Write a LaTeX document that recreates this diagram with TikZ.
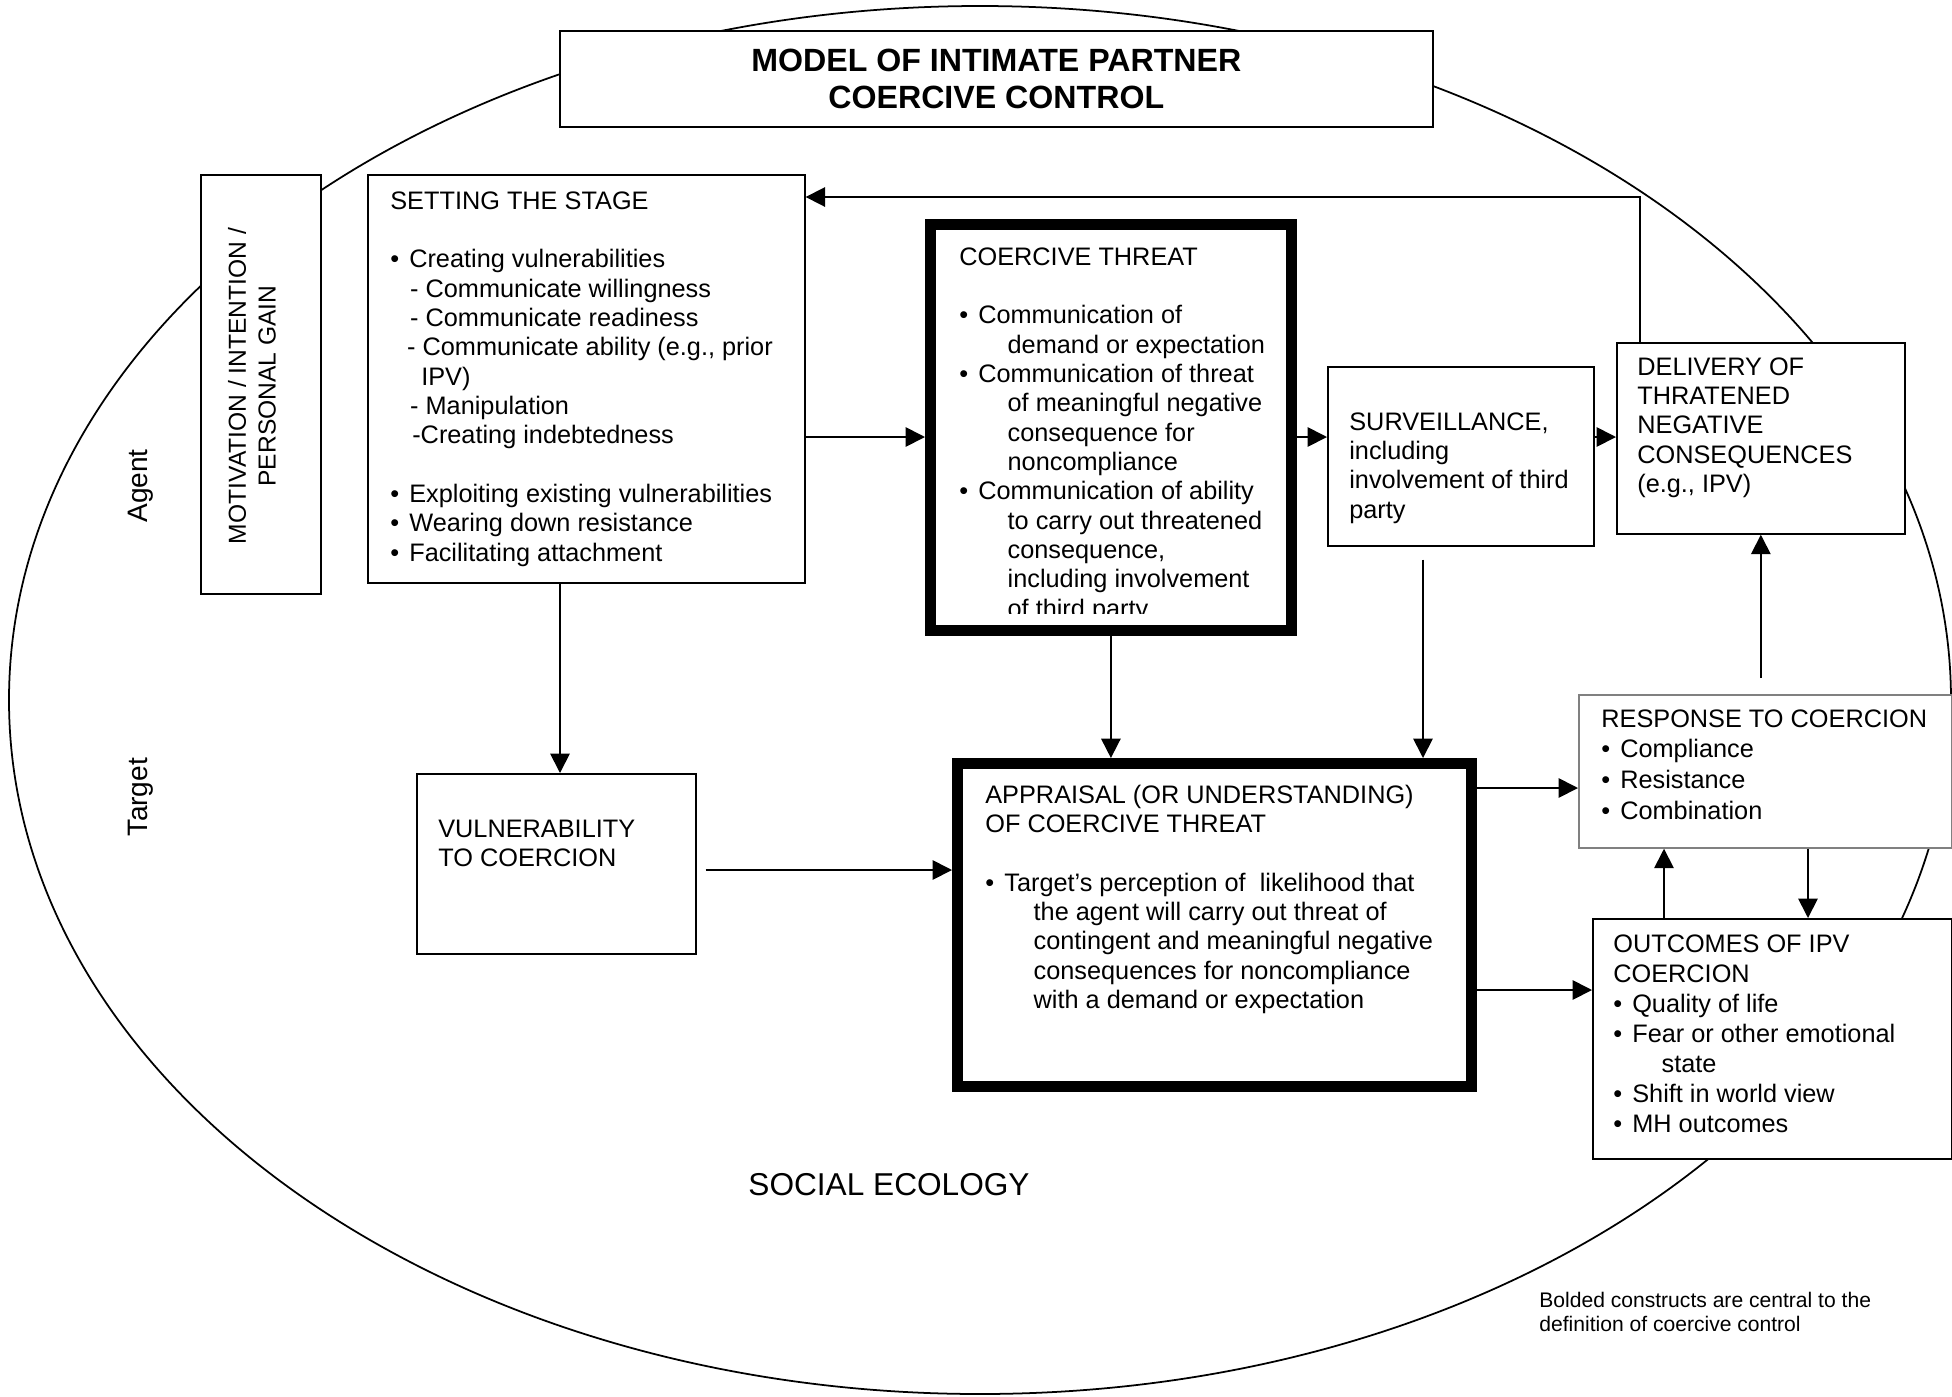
\documentclass[tikz,border=0pt]{standalone}
\usepackage{fontspec}
\setmainfont{Liberation Sans}
\usetikzlibrary{arrows.meta,calc,positioning}

\newcommand{\bulletMark}{\makebox[10.8pt][l]{\textbullet}}
\newcommand{\contIndent}{\hspace*{27.5pt}}

\begin{document}
\begin{tikzpicture}[x=0.02cm, y=-0.02cm,
        box/.style={draw, line width=1pt, fill=white, inner sep=0pt, anchor=north west},
        boldbox/.style={box, line width=6.2pt},
        txt/.style={anchor=base west, inner sep=0pt, font=\fontsize{14.4pt}{16.7pt}\selectfont},
        arr/.style={line width=1pt, -{Triangle[length=11pt, width=11pt]}}]

        \useasboundingbox (0,0) rectangle (1952,1397);

        % Social ecology
        \draw[line width=1pt] (980,700) ellipse [x radius=971, y radius=694];

        % Boxes
        \node[box, minimum width=17.46cm, minimum height=1.92cm,
              font=\fontsize{18.3pt}{21pt}\bfseries\selectfont, align=center] (title) at (559,30)
              {MODEL OF INTIMATE PARTNER\\COERCIVE CONTROL};
        \node[box, minimum width=2.40cm, minimum height=8.38cm] (motiv) at (200,174) {};
        \node[box, minimum width=8.74cm, minimum height=8.16cm] (stage) at (367,174) {};
        \node[boldbox, minimum width=7.22cm, minimum height=8.12cm] (threat) at (925,219) {};
        \node[box, minimum width=5.32cm, minimum height=3.58cm] (surv) at (1327,366) {};
        \node[box, minimum width=5.76cm, minimum height=3.82cm] (deliv) at (1616,342) {};
        \node[box, draw=gray, minimum width=7.46cm, minimum height=3.06cm] (resp) at (1578,694) {};
        \node[box, minimum width=7.18cm, minimum height=4.80cm] (outc) at (1592,918) {};
        \node[box, minimum width=5.58cm, minimum height=3.60cm] (vuln) at (416,773) {};
        \node[boldbox, minimum width=10.28cm, minimum height=6.46cm] (appr) at (952,758) {};

        % Box texts
        \node[rotate=90, align=center, font=\fontsize{14pt}{17pt}\selectfont] (motivtext) at (252,386)
              {MOTIVATION / INTENTION /\\PERSONAL GAIN};

        \node[txt] (stagetext) at ($(stage.north west)+(23,35)$) {\parbox[t]{9cm}{%
              SETTING THE STAGE\\[16.7pt]
              \bulletMark Creating vulnerabilities\\
              \hspace*{11.3pt}- Communicate willingness\\
              \hspace*{11.3pt}- Communicate readiness\\
              \hspace*{9.6pt}- Communicate ability (e.g., prior\\
              \hspace*{17.6pt}IPV)\\
              \hspace*{11.3pt}- Manipulation\\
              \hspace*{12.5pt}-Creating indebtedness\\[16.7pt]
              \bulletMark Exploiting existing vulnerabilities\\
              \bulletMark Wearing down resistance\\
              \bulletMark Facilitating attachment}};

        \begin{scope}
            \clip (936,230) rectangle (1286,613);
            \node[txt] (threattext) at ($(threat.north west)+(34,46)$) {\parbox[t]{7cm}{%
                  COERCIVE THREAT\\[16.7pt]
                  \bulletMark Communication of\\
                  \contIndent demand or expectation\\
                  \bulletMark Communication of threat\\
                  \contIndent of meaningful negative\\
                  \contIndent consequence for\\
                  \contIndent noncompliance\\
                  \bulletMark Communication of ability\\
                  \contIndent to carry out threatened\\
                  \contIndent consequence,\\
                  \contIndent including involvement\\
                  \contIndent of third party}};
        \end{scope}

        \node[txt] (survtext) at ($(surv.north west)+(22,64)$) {\parbox[t]{5cm}{%
              SURVEILLANCE,\\including\\involvement of third\\party}};

        \node[txt] (delivtext) at ($(deliv.north west)+(21,33)$) {\parbox[t]{5.5cm}{%
              DELIVERY OF\\THRATENED\\NEGATIVE\\CONSEQUENCES\\(e.g., IPV)}};

        \node[txt, font=\fontsize{14.4pt}{17.6pt}\selectfont] (resptext) at ($(resp.north west)+(23,33)$) {\parbox[t]{7cm}{%
              RESPONSE TO COERCION\\
              \bulletMark Compliance\\
              \bulletMark Resistance\\
              \bulletMark Combination}};

        \node[txt, font=\fontsize{14.4pt}{17.1pt}\selectfont] (outctext) at ($(outc.north west)+(21,34)$) {\parbox[t]{7cm}{%
              OUTCOMES OF IPV\\COERCION\\
              \bulletMark Quality of life\\
              \bulletMark Fear or other emotional\\
              \contIndent state\\
              \bulletMark Shift in world view\\
              \bulletMark MH outcomes}};

        \node[txt] (vulntext) at ($(vuln.north west)+(22,64)$) {\parbox[t]{5cm}{%
              VULNERABILITY\\TO COERCION}};

        \node[txt] (apprtext) at ($(appr.north west)+(33,45)$) {\parbox[t]{10cm}{%
              APPRAISAL (OR UNDERSTANDING)\\OF COERCIVE THREAT\\[16.7pt]
              \bulletMark Target’s perception of~ likelihood that\\
              \contIndent the agent will carry out threat of\\
              \contIndent contingent and meaningful negative\\
              \contIndent consequences for noncompliance\\
              \contIndent with a demand or expectation}};

        % Side labels
        \node[rotate=90, font=\fontsize{16pt}{19pt}\selectfont] (agent) at (141,486) {Agent};
        \node[rotate=90, font=\fontsize{16pt}{19pt}\selectfont] (target) at (141,797) {Target};
        \node[font=\fontsize{18pt}{21pt}\selectfont] (ecology) at (889,1185) {SOCIAL ECOLOGY};
        \node[txt, font=\fontsize{12pt}{14.2pt}\selectfont] (note) at (1539,1307) {\parbox[t]{7cm}{%
              Bolded constructs are central to the\\definition of coercive control}};

        % Helper rows and columns
        \coordinate (row) at (0,437);
        \coordinate (colStage) at (560,0);
        \coordinate (colSurv) at (1423,0);
        \coordinate (rowVuln) at (0,870);
        \coordinate (rowResp) at (0,788);
        \coordinate (rowOutc) at (0,990);
        \coordinate (colUp) at (1664,0);
        \coordinate (colDown) at (1808,0);

        % Connectors
        \draw[arr] (stage.east |- row) -- (threat.west |- row);
        \draw[arr] (threat.east |- row) -- (surv.west |- row);
        \draw[arr] (surv.east |- row) -- (deliv.west |- row);
        \draw[arr] ($(deliv.north west)+(24,0)$) |- ($(stage.north east)+(0,23)$);
        \draw[arr] (stage.south -| colStage) -- (vuln.north -| colStage);
        \draw[arr] (threat.south) -- (threat.south |- appr.north);
        \draw[arr] ($(surv.south -| colSurv)+(0,13)$) -- (appr.north -| colSurv);
        \draw[arr] ($(vuln.east |- rowVuln)+(9,0)$) -- (appr.west |- rowVuln);
        \draw[arr] (appr.east |- rowResp) -- (resp.west |- rowResp);
        \draw[arr] (appr.east |- rowOutc) -- (outc.west |- rowOutc);
        \draw[arr] (outc.north -| colUp) -- (resp.south -| colUp);
        \draw[arr] (resp.south -| colDown) -- (outc.north -| colDown);
        \draw[arr] ($(resp.north -| deliv.south)+(0,-16)$) -- (deliv.south);

\end{tikzpicture}
\end{document}
